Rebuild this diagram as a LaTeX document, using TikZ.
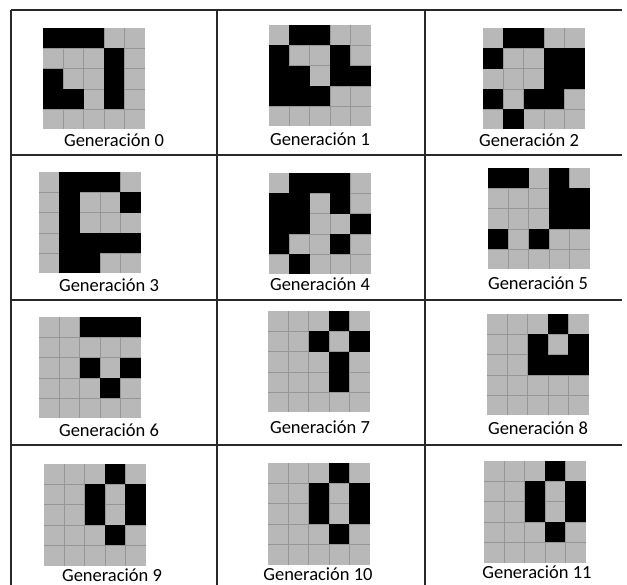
\documentclass[tikz,border=0pt]{standalone}
\usepackage{fontspec}
\setmainfont{Carlito}
\usetikzlibrary{positioning}
\definecolor{celda}{RGB}{184,184,184}
\definecolor{rejilla}{RGB}{150,150,150}
\definecolor{borde}{RGB}{40,40,40}

% one 5x5 board: #1 x, #2 y (top left), #3 live cells as col/row
\newcommand{\tablero}[3]{%
  \begin{scope}[shift={(#1,#2)}]
    \fill[celda] (0,0) rectangle (101.5,101.5);
    \foreach \k in {1,...,4} {
      \draw[rejilla] (\k*20.3,0) -- (\k*20.3,101.5);
      \draw[rejilla] (0,\k*20.3) -- (101.5,\k*20.3);
    }
    \foreach \c/\r in {#3} {\fill[black] (\c*20.3,\r*20.3) rectangle ++(20.3,20.3);}
  \end{scope}
}

\begin{document}
\begin{tikzpicture}[x=1pt, y=-1pt,
   etiqueta/.style={inner sep=0pt, anchor=base, font=\fontsize{18.5}{20}\selectfont},
   tabla/.style={draw=borde, line width=1.1pt}]
  \useasboundingbox (0,0) rectangle (627,585);

  % table lines
  \coordinate (tl) at (11,10);
  \coordinate (tr) at (622,10);
  \draw[tabla, line width=2pt] (tl) -- (tr);
  \draw[tabla] (tl) -- (11,585);
  \foreach \x in {217,425} {\draw[tabla] (\x,10) -- (\x,585);}
  \foreach \y in {155,300,445} {\draw[tabla] (11,\y) -- (622,\y);}

  % row 1
  \tablero{43}{28}{0/0,1/0,2/0,3/1,0/2,3/2,0/3,1/3,3/3}
  \tablero{269}{25}{1/0,2/0,0/1,3/1,0/2,1/2,3/2,4/2,0/3,1/3,2/3}
  \tablero{483}{28}{1/0,2/0,0/1,3/1,4/1,3/2,4/2,0/3,2/3,3/3,1/4}
  \node[etiqueta] (g0) at (114,146.5) {Generación 0};
  \node[etiqueta] (g1) at (320,146) {Generación 1};
  \node[etiqueta] (g2) at (529,146.5) {Generación 2};

  % row 2
  \tablero{39}{172}{1/0,2/0,3/0,1/1,4/1,1/2,1/3,2/3,3/3,4/3,1/4,2/4}
  \tablero{269}{173}{1/0,2/0,3/0,0/1,1/1,3/1,0/2,1/2,4/2,0/3,3/3,1/4}
  \tablero{488}{168}{0/0,1/0,3/0,3/1,4/1,3/2,4/2,0/3,2/3}
  \node[etiqueta] (g3) at (109,291.5) {Generación 3};
  \node[etiqueta] (g4) at (320,290.5) {Generación 4};
  \node[etiqueta] (g5) at (538,289.5) {Generación 5};

  % row 3
  \tablero{39}{317}{2/0,3/0,4/0,2/2,4/2,3/3}
  \tablero{268}{311}{3/0,2/1,4/1,3/2,3/3}
  \tablero{487}{314}{3/0,2/1,4/1,2/2,3/2,4/2}
  \node[etiqueta] (g6) at (109,436.5) {Generación 6};
  \node[etiqueta] (g7) at (320,433.5) {Generación 7};
  \node[etiqueta] (g8) at (538,435) {Generación 8};

  % row 4
  \tablero{44}{464}{3/0,2/1,4/1,2/2,4/2,3/3}
  \tablero{268}{463}{3/0,2/1,4/1,2/2,4/2,3/3}
  \tablero{484}{461}{3/0,2/1,4/1,2/2,4/2,3/3}
  \node[etiqueta] (g9) at (112,581.5) {Generación 9};
  \node[etiqueta] (g10) at (318,580) {Generación 10};
  \node[etiqueta] (g11) at (537,578.5) {Generación 11};
\end{tikzpicture}
\end{document}
